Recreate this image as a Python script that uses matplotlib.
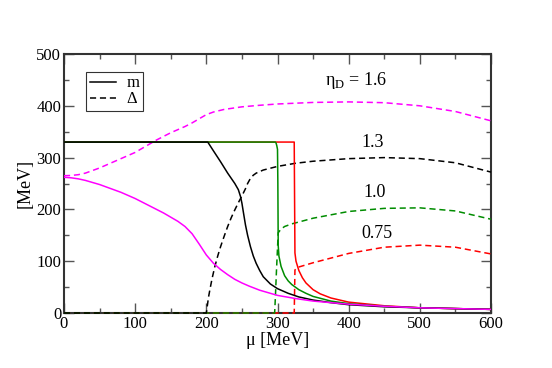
import matplotlib
matplotlib.use("Agg")
import matplotlib.pyplot as plt
from matplotlib.ticker import MultipleLocator

plt.rcParams['font.family'] = ['Liberation Serif', 'DejaVu Serif']
plt.rcParams['mathtext.fontset'] = 'custom'
plt.rcParams['mathtext.rm'] = 'Liberation Serif'

# eta_D = 1.6 (magenta)
mu_m16 = [0, 10, 20, 30, 40, 50, 60, 70, 80, 90, 100, 110, 120, 130, 140, 150, 160, 170, 180,
          190, 200, 210, 220, 230, 240, 250, 260, 275, 300, 325, 350, 375, 400, 450, 500, 550, 600]
m16 = [262, 261, 259, 256, 252, 248, 243, 238, 233, 227, 221, 214, 207, 200, 193, 185, 177, 167, 153,
       133, 112, 96, 84, 74, 65, 58, 52, 44, 34, 28, 23, 20, 17, 13, 10, 8.5, 7]
mu_d16 = [0, 10, 20, 30, 40, 50, 60, 70, 80, 90, 100, 110, 120, 130, 140, 150, 160, 170, 180, 190,
          200, 210, 225, 250, 275, 300, 350, 400, 450, 500, 550, 600]
d16 = [265, 265.5, 267, 270, 275, 280, 286, 292, 298, 304, 310, 318, 326, 334, 341, 348, 354, 360, 367, 375,
       383, 388, 393, 398, 401, 403.5, 406.5, 407.5, 406, 400, 389, 371]

# eta_D = 1.3 (black)
mu_m13 = [0, 202, 210, 220, 230, 240, 245, 248, 250, 252, 255, 258, 262, 266, 270, 275, 280, 290,
          300, 315, 330, 350, 375, 400, 450, 500, 550, 600]
m13 = [330, 330, 313, 292, 270, 250, 238, 225, 212, 195, 170, 150, 128, 110, 96, 82, 70, 56,
       47, 38, 31, 25, 20, 16, 12, 10, 8.5, 7]
mu_d13 = [0, 200, 201, 203, 205, 208, 212, 216, 220, 225, 230, 235, 240, 245, 250, 255, 258, 262,
          266, 270, 280, 300, 325, 350, 400, 450, 500, 550, 600]
d13 = [0, 0, 10, 30, 45, 66, 90, 110, 128, 148, 167, 184, 199, 213, 226, 240, 250, 260,
       266, 270, 276, 283, 289, 293, 298, 300, 298, 290, 272]

# eta_D = 1.0 (green)
mu_m10 = [0, 297, 298, 299, 300, 300.5, 301, 302, 305, 310, 315, 320, 330, 340, 350, 375, 400, 450, 500, 600]
m10 = [330, 330, 328, 323, 316, 250, 130, 110, 90, 72, 62, 55, 45, 38, 32, 23, 18, 13, 10, 7]
mu_d10 = [0, 296, 297, 298.5, 300, 301, 305, 310, 320, 350, 400, 450, 500, 550, 600]
d10 = [0, 0, 30, 80, 125, 155, 162, 167, 172, 183, 196, 202, 203, 197, 181]

# eta_D = 0.75 (red)
mu_m075 = [0, 323.5, 324, 324.5, 326, 330, 335, 340, 350, 360, 375, 400, 450, 500, 600]
m075 = [330, 330, 220, 116, 100, 82, 68, 58, 45, 37, 29, 21, 14, 10, 7]
mu_d075 = [0, 323.5, 324, 324.5, 328, 350, 400, 450, 500, 550, 600]
d075 = [0, 0, 40, 83, 88, 97, 115, 127, 131, 127, 114]

labels = [r'η$_\mathrm{D}$ = 1.6', '1.3', '1.0', '0.75']
label_pos = [(410, 448), (434, 330), (436, 233), (440, 153)]

fig = plt.figure(figsize=(5.52, 3.68), dpi=100)
ax = fig.add_axes([64/552, 1-313/368, 427/552, 259/368])

lw = 1.1
dsh = (4, 2.5)
ax.plot(mu_d075, d075, color='#ff0000', lw=lw, dashes=dsh, zorder=3, clip_on=False)
ax.plot(mu_d10, d10, color='#008c00', lw=lw, dashes=dsh, zorder=3, clip_on=False)
ax.plot(mu_d13, d13, color='black', lw=lw, dashes=dsh, zorder=3, clip_on=False)
ax.plot(mu_d16, d16, color='#ff00ff', lw=lw, dashes=dsh, zorder=3)
ax.plot(mu_m075, m075, color='#ff0000', lw=lw, zorder=3)
ax.plot(mu_m10, m10, color='#008c00', lw=lw, zorder=3)
ax.plot(mu_m13, m13, color='black', lw=lw, zorder=3)
ax.plot(mu_m16, m16, color='#ff00ff', lw=lw, zorder=3)

# legend proxies
h1, = ax.plot([], [], color='black', lw=lw, label='m')
h2, = ax.plot([], [], color='black', lw=lw, dashes=dsh, label='Δ')
leg = ax.legend(handles=[h1, h2], loc='upper left', bbox_to_anchor=(0.052, 0.93),
                fontsize=12, frameon=True, fancybox=False, edgecolor='black',
                handlelength=1.6, handletextpad=0.6, borderpad=0.2, labelspacing=0.0,
                borderaxespad=0)
leg.get_frame().set_linewidth(0.8)

for t, (x, y) in zip(labels, label_pos):
    ax.text(x, y, t, fontsize=13, ha='center', va='center')

ax.set_xlim(0, 600)
ax.set_ylim(0, 500)
ax.xaxis.set_major_locator(MultipleLocator(100))
ax.xaxis.set_minor_locator(MultipleLocator(50))
ax.yaxis.set_major_locator(MultipleLocator(100))
ax.yaxis.set_minor_locator(MultipleLocator(50))
ax.tick_params(which='both', direction='in', top=True, right=True, labelsize=12, color='#555555')
ax.tick_params(which='major', length=7, width=1)
ax.tick_params(which='minor', length=3.5, width=1)
ax.tick_params(axis='x', pad=2)
ax.tick_params(axis='y', pad=2)
for s in ax.spines.values():
    s.set_linewidth(1.5)
    s.set_color('#333333')

ax.set_xlabel('μ [MeV]', fontsize=13, labelpad=0)
ax.set_ylabel('[MeV]', fontsize=13, labelpad=2)

fig.savefig('out.png', dpi=100)
